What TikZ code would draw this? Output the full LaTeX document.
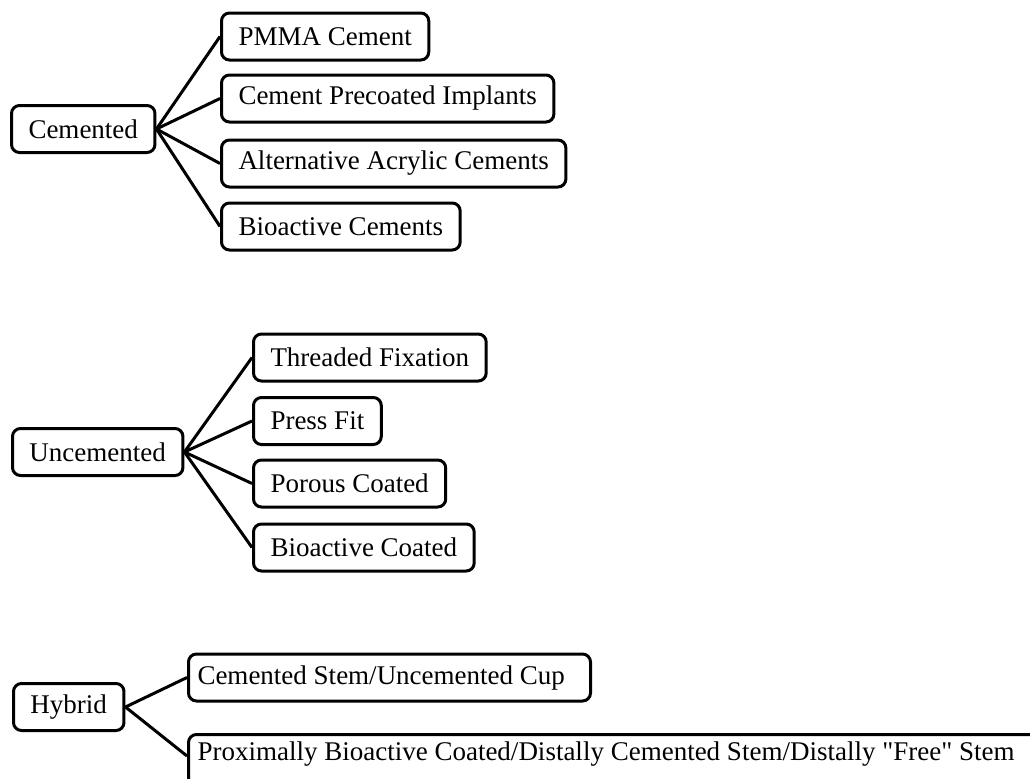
\documentclass[tikz,border=0pt]{standalone}
\usepackage{fontspec}
\setmainfont{Liberation Serif}
\begin{document}
\begin{tikzpicture}[x=0.5pt, y=-0.5pt,
        box/.style={draw, line width=1.5pt, rounded corners=4pt, anchor=west,
            inner xsep=8.5pt, minimum height=23.5pt,
            font=\fontsize{13.5pt}{16pt}\selectfont},
        widebox/.style={box, inner xsep=4.5pt},
        link/.style={line width=1.5pt}]

        \useasboundingbox (0,0) rectangle (1030,778);
        \clip (0,0) rectangle (1030,778);

        % Cemented
        \begin{scope}
            \node[box] (cemented) at (10,129) {Cemented};

            \node[box] (pmma) at (220,36.5) {PMMA Cement};
            \node[box] (precoated) at (220,98.5) {Cement Precoated Implants};
            \node[box] (acrylic) at (220,163.5) {Alternative Acrylic Cements};
            \node[box] (biocement) at (220,226.5) {Bioactive Cements};

            \foreach \leaf in {pmma, precoated, acrylic, biocement}
                \draw[link] (cemented.east) -- (\leaf.west);
        \end{scope}

        % Uncemented
        \begin{scope}
            \node[box] (uncemented) at (11,452) {Uncemented};

            \node[box] (threaded) at (252,357.5) {Threaded Fixation};
            \node[box] (pressfit) at (252,421) {Press Fit};
            \node[box] (porous) at (252,483.5) {Porous Coated};
            \node[box] (biocoated) at (252,547.5) {Bioactive Coated};

            \foreach \leaf in {threaded, pressfit, porous, biocoated}
                \draw[link] (uncemented.east) -- (\leaf.west);
        \end{scope}

        % Hybrid
        \begin{scope}
            \node[box] (hybrid) at (12,707) {Hybrid};

            \node[widebox] (stemcup) at (187,677.5)
                {\makebox[192pt][l]{Cemented Stem/Uncemented Cup}};
            % runs off the page at the right and bottom
            \node[widebox, anchor=north west, minimum height=0pt, inner ysep=3pt,
                text height=10pt, text depth=16pt] (proximal) at (187,733)
                {\makebox[425pt][l]{Proximally Bioactive Coated/Distally Cemented Stem/Distally \textquotedbl Free\textquotedbl{} Stem}};

            \draw[link] (hybrid.east) -- (stemcup.west);
            \draw[link] (hybrid.east) -- (proximal.north west |- 0,756);
        \end{scope}
    \end{tikzpicture}
\end{document}
